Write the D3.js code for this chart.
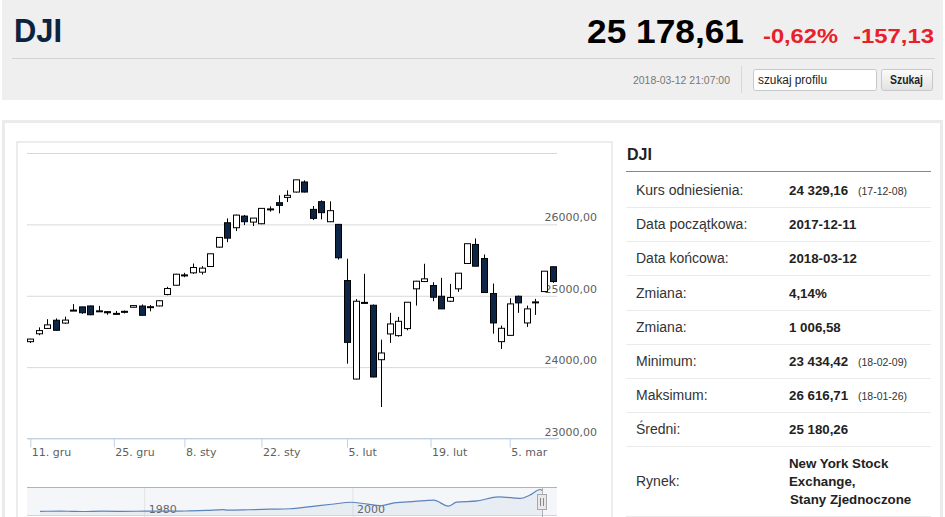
<!DOCTYPE html>
<html><head><meta charset="utf-8">
<script src="https://cdn.jsdelivr.net/npm/d3@7/dist/d3.min.js"></script>
<style>body{margin:0;background:#fff;} svg{display:block;}</style>
</head><body>
<svg id="c" width="945" height="517"></svg>
<script>
// ---------- DATA ----------
const dates = ["2017-12-11","2017-12-12","2017-12-13","2017-12-14","2017-12-15","2017-12-18","2017-12-19","2017-12-20","2017-12-21","2017-12-22","2017-12-26","2017-12-27","2017-12-28","2017-12-29","2018-01-02","2018-01-03","2018-01-04","2018-01-05","2018-01-08","2018-01-09","2018-01-10","2018-01-11","2018-01-12","2018-01-16","2018-01-17","2018-01-18","2018-01-19","2018-01-22","2018-01-23","2018-01-24","2018-01-25","2018-01-26","2018-01-29","2018-01-30","2018-01-31","2018-02-01","2018-02-02","2018-02-05","2018-02-06","2018-02-07","2018-02-08","2018-02-09","2018-02-12","2018-02-13","2018-02-14","2018-02-15","2018-02-16","2018-02-20","2018-02-21","2018-02-22","2018-02-23","2018-02-26","2018-02-27","2018-02-28","2018-03-01","2018-03-02","2018-03-05","2018-03-06","2018-03-07","2018-03-08","2018-03-09","2018-03-12"];
const openV  = [24350,24460,24535,24650,24610,24785,24837,24850,24778,24770,24740,24775,24832,24849,24830,24850,25010,25140,25285,25314,25323,25403,25674,26016,25946,26109,26025,26002,26205,26297,26371,26446,26587,26203,26311,26030,25993,25206,23826,24900,24860,24097,24458,24434,24533,25090,25192,25136,24986,24916,25090,25445,25712,25515,25024,24350,24438,24986,24612,24900,25052,25399];
const highV  = [24390,24550,24665,24675,24700,24876,24840,24855,24850,24772,24780,24786,24858,24871,24862,24930,25118,25300,25314,25445,25407,25581,25810,26077,26130,26125,26081,26217,26245,26400,26470,26617,26610,26250,26330,26316,26000,25511,24946,25300,24870,24378,24753,24697,24902,25202,25441,25183,25244,25160,25309,25722,25796,25571,25164,24575,24958,24995,24855,24949,25337,25405];
const lowV   = [24330,24440,24530,24505,24600,24780,24740,24720,24770,24727,24728,24745,24828,24719,24775,24845,25000,25135,25253,25300,25290,25395,25665,25744,25899,25983,25969,25995,26171,26147,26306,26440,26440,26053,26063,26025,25500,24041,23820,24885,23849,23434,24332,24420,24509,24855,25185,24916,24809,24905,25048,25440,25407,25038,24462,24247,24430,24753,24556,24725,25045,25174];
const closeV = [24386,24505,24585,24509,24652,24792,24755,24727,24782,24754,24746,24768,24855,24719,24840,24923,25094,25295,25281,25389,25380,25581,25810,25800,26123,26030,26081,26217,26210,26259,26400,26617,26446,26077,26157,26185,25525,24340,24916,24893,23855,24191,24598,24635,24902,25197,25230,24972,24809,24968,25309,25722,25407,25038,24612,24537,24879,24893,24809,24907,25337,25192];

const xTickDates  = ["2017-12-11","2017-12-25","2018-01-08","2018-01-22","2018-02-05","2018-02-19","2018-03-05"];
const xTickLabels = ["11. gru","25. gru","8. sty","22. sty","5. lut","19. lut","5. mar"];
const yTicks = [23000,24000,25000,26000,27000];

const navYears  = [1970,1972,1973,1974,1976,1978,1980,1982,1984,1986,1987.6,1988,1990,1992,1994,1996,1998,1999.9,2001,2002.8,2004,2006,2007.8,2009.2,2010,2012,2014,2015.6,2016.1,2017,2018.05,2018.2];
const navValues = [800,1020,850,600,1000,800,960,1050,1210,1900,2700,2170,2630,3300,3830,6450,9180,11500,10020,7600,10780,12460,14000,7000,11580,13100,17820,16500,16000,19800,26600,25180];
const navTicks = [1980,2000];

const tableLabels = ["Kurs odniesienia:","Data początkowa:","Data końcowa:","Zmiana:","Zmiana:","Minimum:","Maksimum:","Średni:","Rynek:"];
const tableValues = ["24 329,16","2017-12-11","2018-03-12","4,14%","1 006,58","23 434,42","26 616,71","25 180,26","New York Stock\nExchange,\nStany Zjednoczone"];
const tableNotes  = ["(17-12-08)","","","","","(18-02-09)","(18-01-26)","",""];

// ---------- DRAW ----------
const svg = d3.select("#c");
const SANS = "'Liberation Sans', Arial, sans-serif";
const CH = "'DejaVu Sans', Verdana, sans-serif";

// header band
svg.append("rect").attr("x",2).attr("y",0).attr("width",941).attr("height",100).attr("fill","#efefef");
svg.append("line").attr("x1",12).attr("x2",935).attr("y1",58.5).attr("y2",58.5).attr("stroke","#d3d3d3");
svg.append("text").attr("x",14).attr("y",42).attr("font-family",SANS).attr("font-weight","bold").attr("font-size",33)
  .attr("fill","#0c2340").attr("textLength",48).attr("lengthAdjust","spacingAndGlyphs").text("DJI");
svg.append("text").attr("x",587).attr("y",43).attr("font-family",SANS).attr("font-weight","bold").attr("font-size",33)
  .attr("fill","#000").attr("textLength",157).attr("lengthAdjust","spacingAndGlyphs").text("25 178,61");
svg.append("text").attr("x",763).attr("y",42.5).attr("font-family",SANS).attr("font-weight","bold").attr("font-size",21)
  .attr("fill","#e8202a").attr("textLength",75).attr("lengthAdjust","spacingAndGlyphs").text("-0,62%");
svg.append("text").attr("x",853).attr("y",42.5).attr("font-family",SANS).attr("font-weight","bold").attr("font-size",21)
  .attr("fill","#e8202a").attr("textLength",81).attr("lengthAdjust","spacingAndGlyphs").text("-157,13");
svg.append("text").attr("x",633).attr("y",84).attr("font-family",SANS).attr("font-size",11)
  .attr("fill","#777").attr("textLength",97).attr("lengthAdjust","spacingAndGlyphs").text("2018-03-12 21:07:00");
svg.append("line").attr("x1",741.5).attr("x2",741.5).attr("y1",66).attr("y2",93).attr("stroke","#d8d8d8");
svg.append("rect").attr("x",753.5).attr("y",69.5).attr("width",123).attr("height",21).attr("rx",2)
  .attr("fill","#fff").attr("stroke","#c8c8c8");
svg.append("text").attr("x",758).attr("y",84).attr("font-family",SANS).attr("font-size",12)
  .attr("fill","#222").attr("textLength",69).attr("lengthAdjust","spacingAndGlyphs").text("szukaj profilu");
const grad = svg.append("defs").append("linearGradient").attr("id","btn").attr("x1",0).attr("x2",0).attr("y1",0).attr("y2",1);
grad.append("stop").attr("offset","0").attr("stop-color","#fbfbfb");
grad.append("stop").attr("offset","1").attr("stop-color","#e2e2e2");
svg.append("rect").attr("x",881.5).attr("y",69.5).attr("width",51).attr("height",21).attr("rx",2)
  .attr("fill","url(#btn)").attr("stroke","#c8c8c8");
svg.append("text").attr("x",890).attr("y",84).attr("font-family",SANS).attr("font-weight","bold").attr("font-size",12)
  .attr("fill","#222").attr("textLength",33).attr("lengthAdjust","spacingAndGlyphs").text("Szukaj");

// panel borders
svg.append("rect").attr("x",3.5).attr("y",121.5).attr("width",938).attr("height",420)
  .attr("fill","none").attr("stroke","#ebebeb").attr("stroke-width",3);
svg.append("rect").attr("x",17).attr("y",142).attr("width",595).attr("height",400)
  .attr("fill","none").attr("stroke","#e6e6e6").attr("stroke-width",1.5);

// scales
const x = d3.scaleLinear().domain([0, dates.length-1]).range([30.3, 552.5]);
const y = d3.scaleLinear().domain([23000, 27000]).range([438, 152.5]);
const parse = d3.utcParse("%Y-%m-%d");
const dT = dates.map(parse);
function ordIndex(s){
  const t = parse(s);
  for (let i=0;i<dT.length;i++){
    if (+dT[i] === +t) return i;
    if (i < dT.length-1 && t > dT[i] && t < dT[i+1]) return i + (t-dT[i])/(dT[i+1]-dT[i]);
  }
  return 0;
}
const fmt = v => v.toFixed(2).replace(".", ",");

// y grid + labels
const plotL = 27, plotR = 557;
const gy = svg.append("g").attr("transform",`translate(${plotL},0.5)`)
  .call(d3.axisLeft(y).tickValues(yTicks).tickSize(-(plotR-plotL)).tickFormat(d => d===27000 ? "" : fmt(d)));
gy.select(".domain").remove();
gy.selectAll(".tick line").attr("stroke","#d9d9d9");
gy.selectAll(".tick text").attr("x", 597-plotL).attr("dy",-3.5).attr("text-anchor","end")
  .attr("font-family",CH).attr("font-size",11).attr("fill","#606060");

// x axis
const tickIdx = xTickDates.map(ordIndex);
svg.append("line").attr("x1",plotL).attr("x2",559).attr("y1",438.5).attr("y2",438.5).attr("stroke","#c0d0e0");
const gx = svg.append("g").attr("transform","translate(0,438.5)")
  .call(d3.axisBottom(x).tickValues(tickIdx).tickSize(9).tickFormat((d,i)=>xTickLabels[i]));
gx.select(".domain").remove();
gx.selectAll(".tick line").attr("stroke","#c0d0e0");
gx.selectAll(".tick text").attr("x",1).attr("y",17.5).attr("dy",0).attr("text-anchor","start")
  .attr("font-family",CH).attr("font-size",11).attr("fill","#606060");

// candles
const candles = dates.map((d,i)=>({i, o:openV[i], h:highV[i], l:lowV[i], c:closeV[i]}));
const cg = svg.append("g");
cg.selectAll("line.wick").data(candles).join("line")
  .attr("x1",d=>Math.round(x(d.i))+0.5).attr("x2",d=>Math.round(x(d.i))+0.5)
  .attr("y1",d=>y(d.h)).attr("y2",d=>y(d.l)).attr("stroke","#000").attr("stroke-width",1);
cg.selectAll("rect.body").data(candles).join("rect")
  .attr("x",d=>Math.round(x(d.i))-2.5).attr("width",6)
  .attr("y",d=>y(Math.max(d.o,d.c)))
  .attr("height",d=>Math.max(1, Math.abs(y(d.o)-y(d.c))))
  .attr("fill",d=>d.c>=d.o ? "#fff" : "#0d2547").attr("stroke","#000").attr("stroke-width",1);

// navigator
const navTop = 487.5, navBot = 515.5, navR = 557;
svg.append("rect").attr("x",plotL).attr("y",navTop).attr("width",navR-plotL).attr("height",navBot-navTop).attr("fill","#f5f6f9");
const xn = d3.scaleLinear().domain([1970, 2018.2]).range([40, 542]);
const yn = d3.scaleLinear().domain([0, 26600]).range([512, 489.5]);
const gn = svg.append("g").attr("transform",`translate(0,${navTop})`)
  .call(d3.axisBottom(xn).tickValues(navTicks).tickSize(30).tickFormat(d3.format("d")));
gn.select(".domain").remove();
gn.selectAll(".tick line").attr("stroke","#e3e3e3");
gn.selectAll(".tick text").attr("x",4).attr("y",25).attr("dy",0).attr("text-anchor","start")
  .attr("font-family",CH).attr("font-size",11).attr("fill","#666");
const navPts = navYears.map((t,i)=>[t,navValues[i]]);
svg.append("path").datum(navPts)
  .attr("d", d3.area().x(d=>xn(d[0])).y0(navBot).y1(d=>yn(d[1])).curve(d3.curveMonotoneX))
  .attr("fill","rgba(69,114,167,0.07)");
svg.append("path").datum(navPts)
  .attr("d", d3.line().x(d=>xn(d[0])).y(d=>yn(d[1])).curve(d3.curveMonotoneX))
  .attr("fill","none").attr("stroke","#5a84bb").attr("stroke-width",1.2);
svg.append("line").attr("x1",plotL).attr("x2",navR).attr("y1",navTop).attr("y2",navTop).attr("stroke","#b2b1b6");
svg.append("line").attr("x1",plotL).attr("x2",navR).attr("y1",navBot).attr("y2",navBot).attr("stroke","#d0d4dc");
svg.append("line").attr("x1",542.5).attr("x2",542.5).attr("y1",navTop).attr("y2",517).attr("stroke","#b2b1b6");
svg.append("rect").attr("x",537.5).attr("y",494.5).attr("width",9).attr("height",15)
  .attr("fill","#ebe7e8").attr("stroke","#a8a8a8");
[540.5,543.5].forEach(v=>svg.append("line").attr("x1",v).attr("x2",v).attr("y1",498).attr("y2",506).attr("stroke","#888"));

// table
svg.append("text").attr("x",627).attr("y",160).attr("font-family",SANS).attr("font-weight","bold")
  .attr("font-size",16).attr("fill","#222").text("DJI");
svg.append("line").attr("x1",626).attr("x2",931).attr("y1",171.5).attr("y2",171.5).attr("stroke","#888");
const rowTop = 173, rowH = 34.15;
tableLabels.forEach((lab,i)=>{
  const last = i === tableLabels.length-1;
  const cy = last ? 481 : rowTop + rowH*i + rowH/2;
  const sepY = last ? 516 : rowTop + rowH*(i+1);
  svg.append("line").attr("x1",626).attr("x2",931).attr("y1",Math.round(sepY)+0.5).attr("y2",Math.round(sepY)+0.5).attr("stroke","#ebebeb");
  svg.append("text").attr("x",636).attr("y",cy+5).attr("font-family",SANS).attr("font-size",14)
    .attr("fill","#333").text(lab);
  const lines = tableValues[i].split("\n");
  lines.forEach((ln,k)=>{
    svg.append("text").attr("x", k===2 ? 790 : 789).attr("y", cy+5+(k-(lines.length-1)/2)*17.8)
      .attr("font-family",SANS).attr("font-weight","bold").attr("font-size",13.3).attr("fill","#222").text(ln);
  });
  if (tableNotes[i]) svg.append("text").attr("x",858).attr("y",cy+5).attr("font-family",SANS)
    .attr("font-size",10.5).attr("fill","#333").text(tableNotes[i]);
});
</script>
</body></html>
